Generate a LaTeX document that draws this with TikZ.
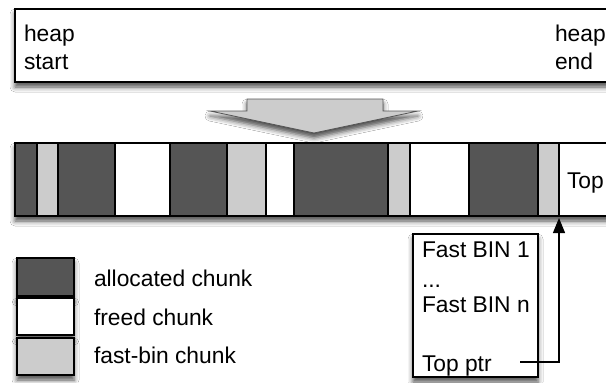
\documentclass[tikz,border=0pt]{standalone}
\usepackage{fontspec}
\setmainfont{Liberation Sans}
\usetikzlibrary{shadows.blur,arrows.meta}
\definecolor{darkchunk}{HTML}{555555}
\definecolor{lightchunk}{HTML}{CCCCCC}
\begin{document}
\begin{tikzpicture}[x=1pt,y=-1pt,
  every node/.style={font=\fontsize{22.8}{27}\selectfont, inner sep=0pt, outer sep=0pt},
  outline/.style={draw=black, line width=1.2pt},
  shadowed/.style={blur shadow={shadow xshift=0pt, shadow yshift=-5pt, shadow blur radius=5pt, shadow opacity=70}},
  box/.style={outline, rectangle, anchor=north west},
  chunk/.style={box, minimum height=73pt},
  alloc/.style={chunk, fill=darkchunk},
  freed/.style={chunk, fill=white},
  fastc/.style={chunk, fill=lightchunk},
  lbl/.style={anchor=base west},
  ptrline/.style={draw=black, line width=1.2pt, -{Triangle[length=15pt,width=12pt]}}
]
\useasboundingbox (0,0) rectangle (606,383);
\begin{scope}
\clip (0,0) rectangle (606,383);
\fill[white] (0,0) rectangle (606,383);

% heap range box
\node[box, shadowed, fill=white, minimum width=620pt, minimum height=73pt] (heapbox) at (15,9) {};
\node[lbl] (hs1) at (24,41) {heap};
\node[lbl] (hs2) at (24,69) {start};
\node[lbl] (he1) at (555,41) {heap};
\node[lbl] (he2) at (555,69) {end};

% big down arrow
\draw[draw=darkchunk, line width=0.8pt, fill=lightchunk, shadowed]
  (247,99) -- (383,99) -- (383,111) -- (418,111) -- (314,133) -- (210,111) -- (247,111) -- cycle;

% heap bar
\path[shadowed, fill=white] (15,143) rectangle (640,216);
\node[alloc, minimum width=22pt] (c1) at (15,143) {};
\node[fastc, minimum width=21pt] (c2) at (37,143) {};
\node[alloc, minimum width=57pt] (c3) at (58,143) {};
\node[freed, minimum width=55pt] (c4) at (115,143) {};
\node[alloc, minimum width=57pt] (c5) at (170,143) {};
\node[fastc, minimum width=39pt] (c6) at (227,143) {};
\node[freed, minimum width=28pt] (c7) at (266,143) {};
\node[alloc, minimum width=94pt] (c8) at (294,143) {};
\node[fastc, minimum width=22pt] (c9) at (388,143) {};
\node[freed, minimum width=59pt] (c10) at (410,143) {};
\node[alloc, minimum width=69pt] (c11) at (469,143) {};
\node[fastc, minimum width=21pt] (c12) at (538,143) {};
\node[freed, minimum width=80pt] (c13) at (559,143) {};
\node[lbl] (toplbl) at (567,188) {Top};

% legend
\node[box, shadowed, fill=darkchunk, minimum width=57pt, minimum height=38pt] (la) at (17,258) {};
\node[box, shadowed, fill=white, minimum width=57pt, minimum height=37pt] (lf) at (17,298) {};
\node[box, shadowed, fill=lightchunk, minimum width=57pt, minimum height=37pt] (lb) at (17,338) {};
\node[lbl] (ta) at (94,286) {allocated chunk};
\node[lbl] (tf) at (94,325) {freed chunk};
\node[lbl] (tb) at (94,363) {fast-bin chunk};

% fast bins box
\node[box, shadowed, fill=white, minimum width=125pt, minimum height=143pt] (bins) at (413,234) {};
\node[lbl] (b1) at (422,257) {Fast BIN 1};
\node[lbl] (bd) at (422,287) {...};
\node[lbl] (bn) at (422,312) {Fast BIN n};
\node[lbl] (ptr) at (422,371) {Top ptr};
\coordinate (ptrend) at (520,362);

\draw[ptrline] (ptrend) -| ([yshift=-2pt]c13.south west);
\end{scope}
\end{tikzpicture}
\end{document}
